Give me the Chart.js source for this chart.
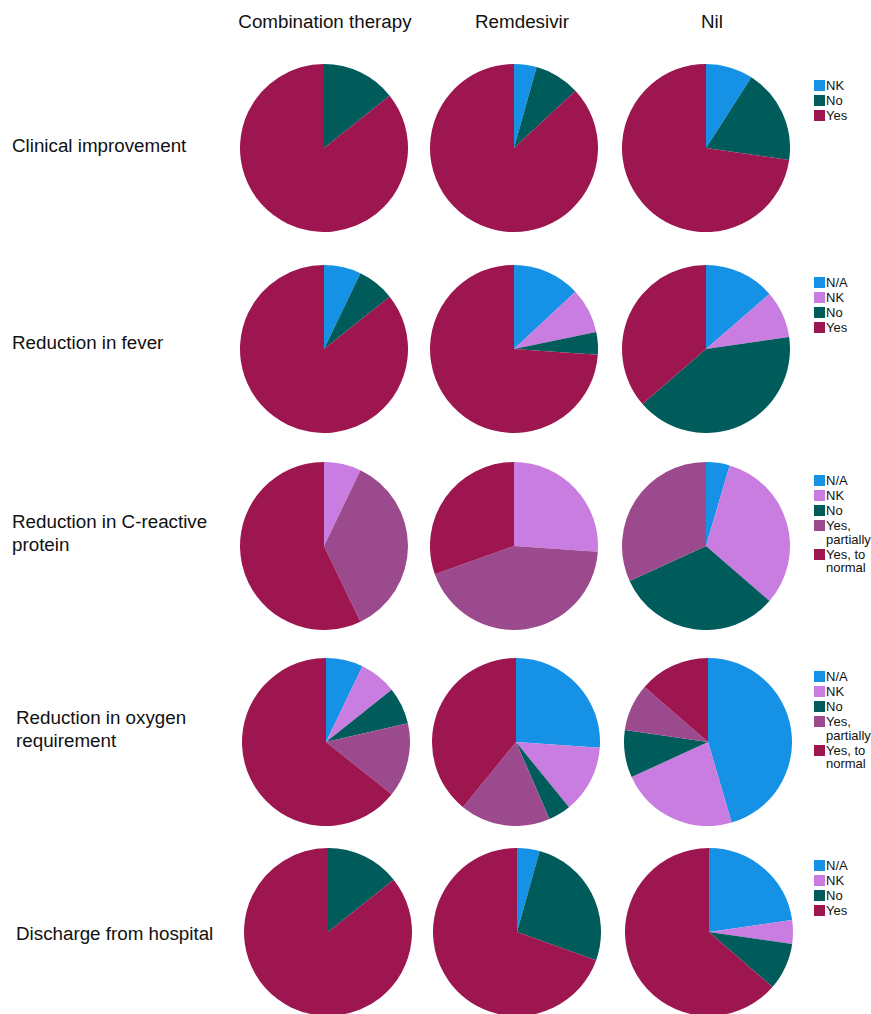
<!DOCTYPE html>
<html>
<head>
<meta charset="utf-8">
<script src="https://cdn.jsdelivr.net/npm/chart.js@4"></script>
<style>
  body { margin: 0; background: #fff; font-family: "Liberation Sans", Arial, sans-serif; color: #111; }
  #wrap { position: relative; width: 871px; height: 1014px; overflow: hidden; }
  .head { position: absolute; top: 11px; font-size: 18.8px; transform: translateX(-50%); white-space: nowrap; }
  .rowlab { position: absolute; font-size: 18.8px; line-height: 23px; }
  .pie { position: absolute; width: 168px; height: 168px; }
  .legend { position: absolute; left: 814px; font-size: 13px; line-height: 13.5px; }
  .legend .it { display: flex; align-items: flex-start; margin-bottom: 1.5px; }
  .legend .sw { width: 11px; height: 11px; margin-right: 1px; margin-top: 1px; flex: none; }
  .legend .tx { width: 54px; }
</style>
</head>
<body>
<div id="wrap"></div>
<script>
// --- data (patient counts) ---
const columns = ['Combination therapy', 'Remdesivir', 'Nil'];
const outcomes = ['Clinical improvement', 'Reduction in fever', 'Reduction in C-reactive protein', 'Reduction in oxygen requirement', 'Discharge from hospital'];

const clinicalLabels = ['NK', 'No', 'Yes'];
const clinicalCombo = [0, 2, 12];
const clinicalRem = [1, 2, 20];
const clinicalNil = [2, 4, 16];

const feverLabels = ['N/A', 'NK', 'No', 'Yes'];
const feverCombo = [1, 0, 1, 12];
const feverRem = [3, 2, 1, 17];
const feverNil = [3, 2, 9, 8];

const crpLabels = ['N/A', 'NK', 'No', 'Yes, partially', 'Yes, to normal'];
const crpCombo = [0, 1, 0, 5, 8];
const crpRem = [0, 6, 0, 10, 7];
const crpNil = [1, 7, 7, 7, 0];

const oxygenLabels = ['N/A', 'NK', 'No', 'Yes, partially', 'Yes, to normal'];
const oxygenCombo = [1, 1, 1, 2, 9];
const oxygenRem = [6, 3, 1, 4, 9];
const oxygenNil = [10, 5, 2, 2, 3];

const dischargeLabels = ['N/A', 'NK', 'No', 'Yes'];
const dischargeCombo = [0, 0, 2, 12];
const dischargeRem = [1, 0, 6, 16];
const dischargeNil = [5, 1, 2, 14];

// colours per label
const colorMap = {
  'N/A': '#1591e6', 'NK': '#c97de0', 'No': '#005b5b',
  'Yes': '#9e1650', 'Yes, partially': '#9c4a8e', 'Yes, to normal': '#9e1650'
};
// first row has no N/A, its NK is drawn in blue
const clinicalColors = { 'NK': '#1591e6', 'No': '#005b5b', 'Yes': '#9e1650' };

// --- layout ---
const rows = [
  { labels: clinicalLabels, sets: [clinicalCombo, clinicalRem, clinicalNil], cy: 148, xs: [324, 514, 706], legTop: 79, text: ['Clinical improvement'], textTop: 134, textLeft: 12 },
  { labels: feverLabels, sets: [feverCombo, feverRem, feverNil], cy: 349, xs: [324, 514, 706], legTop: 276, text: ['Reduction in fever'], textTop: 331, textLeft: 12 },
  { labels: crpLabels, sets: [crpCombo, crpRem, crpNil], cy: 546, xs: [324, 514, 706], legTop: 474, text: ['Reduction in C-reactive', 'protein'], textTop: 510, textLeft: 12 },
  { labels: oxygenLabels, sets: [oxygenCombo, oxygenRem, oxygenNil], cy: 742, xs: [326, 516, 708], legTop: 670, text: ['Reduction in oxygen', 'requirement'], textTop: 706, textLeft: 16 },
  { labels: dischargeLabels, sets: [dischargeCombo, dischargeRem, dischargeNil], cy: 932, xs: [328, 517, 709], legTop: 859, text: ['Discharge from hospital'], textTop: 922, textLeft: 16 }
];

const wrap = document.getElementById('wrap');
const headX = [325, 522, 712];
columns.forEach((c, i) => {
  const d = document.createElement('div'); d.className = 'head';
  d.style.left = headX[i] + 'px'; d.textContent = c; wrap.appendChild(d);
});

rows.forEach((r, ri) => {
  const lab = document.createElement('div'); lab.className = 'rowlab';
  lab.style.left = r.textLeft + 'px'; lab.style.top = r.textTop + 'px';
  lab.innerHTML = r.text.join('<br>'); wrap.appendChild(lab);

  const cols = r.labels.map(l => ri === 0 ? clinicalColors[l] : colorMap[l]);

  r.sets.forEach((vals, ci) => {
    const box = document.createElement('div'); box.className = 'pie';
    box.style.left = (r.xs[ci] - 84) + 'px'; box.style.top = (r.cy - 84) + 'px';
    const cv = document.createElement('canvas'); box.appendChild(cv); wrap.appendChild(box);
    new Chart(cv.getContext('2d'), {
      type: 'pie',
      data: { labels: r.labels, datasets: [{ data: vals, backgroundColor: cols, borderWidth: 0 }] },
      options: { responsive: true, maintainAspectRatio: false, animation: false,
        layout: { padding: 0 },
        plugins: { legend: { display: false }, tooltip: { enabled: false } } }
    });
  });

  const leg = document.createElement('div'); leg.className = 'legend'; leg.style.top = r.legTop + 'px';
  r.labels.forEach((l, i) => {
    const it = document.createElement('div'); it.className = 'it';
    it.innerHTML = '<div class="sw" style="background:' + cols[i] + '"></div><div class="tx">' + l + '</div>';
    leg.appendChild(it);
  });
  wrap.appendChild(leg);
});
</script>
</body>
</html>
